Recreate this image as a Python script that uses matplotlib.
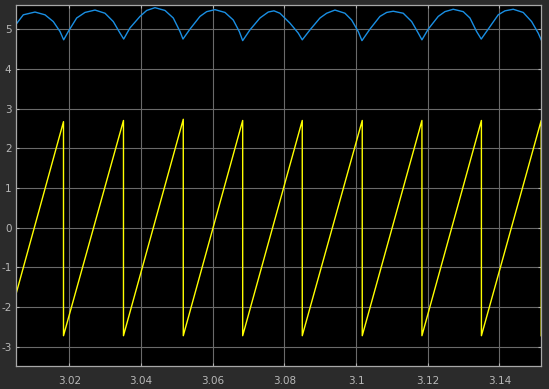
import numpy as np
import matplotlib
matplotlib.use("Agg")
from matplotlib import pyplot as plt

plt.rcParams["axes.unicode_minus"] = False

# blue trace
blue_t = [3.00500, 3.00712, 3.01039, 3.01318, 3.01549, 3.01736, 3.01839,
          3.01968, 3.02202, 3.02434, 3.02713, 3.02992, 3.03224, 3.03411, 3.03514,
          3.03690, 3.03969, 3.04156, 3.04387, 3.04666, 3.04898, 3.05085, 3.05169,
          3.05364, 3.05643, 3.05830, 3.06062, 3.06341, 3.06572, 3.06740, 3.06835,
          3.07038, 3.07317, 3.07549, 3.07708, 3.07875, 3.08155, 3.08386, 3.08498,
          3.08713, 3.08992, 3.09179, 3.09410, 3.09689, 3.09876, 3.10060, 3.10164,
          3.10387, 3.10666, 3.10853, 3.11037, 3.11316, 3.11551, 3.11735, 3.11838,
          3.12014, 3.12293, 3.12480, 3.12711, 3.12991, 3.13178, 3.13364, 3.13493,
          3.13688, 3.13967, 3.14154, 3.14386, 3.14665, 3.14899, 3.15083, 3.15167]
blue_v = [5.11, 5.36, 5.43, 5.36, 5.19, 4.94, 4.73,
          4.94, 5.28, 5.42, 5.48, 5.40, 5.19, 4.90, 4.75,
          5.03, 5.32, 5.47, 5.54, 5.47, 5.28, 4.94, 4.75,
          5.00, 5.32, 5.44, 5.49, 5.42, 5.23, 4.94, 4.71,
          4.98, 5.28, 5.43, 5.46, 5.40, 5.15, 4.90, 4.73,
          4.98, 5.28, 5.40, 5.48, 5.40, 5.23, 4.94, 4.71,
          5.00, 5.32, 5.42, 5.45, 5.40, 5.19, 4.90, 4.73,
          5.00, 5.32, 5.44, 5.50, 5.44, 5.28, 4.94, 4.75,
          5.00, 5.36, 5.46, 5.50, 5.42, 5.19, 4.90, 4.73]

# yellow sawtooth corners
saw_t = [3.00500, 3.01834, 3.01834, 3.03508, 3.03508, 3.05177, 3.05177,
         3.06835, 3.06835, 3.08498, 3.08498, 3.10172, 3.10172, 3.11838, 3.11838,
         3.13498, 3.13498, 3.15167, 3.15167]
saw_v = [-1.70, 2.67, -2.72, 2.70, -2.72, 2.73, -2.72,
         2.70, -2.72, 2.70, -2.72, 2.70, -2.72, 2.70, -2.72,
         2.70, -2.72, 2.70, -2.72]

x_ticks = [3.02, 3.04, 3.06, 3.08, 3.10, 3.12, 3.14]
x_labels = ["3.02", "3.04", "3.06", "3.08", "3.1", "3.12", "3.14"]
y_ticks = [-3, -2, -1, 0, 1, 2, 3, 4, 5]

fig = plt.figure(figsize=(5.49, 3.89), dpi=100, facecolor="#2b2b2b")
ax = fig.add_axes([0.0286, 0.0584, 0.9574, 0.928], facecolor="black")

ax.plot(blue_t, blue_v, color="#1a8fe3", lw=1.0)
ax.plot(saw_t, saw_v, color="#ffff00", lw=1.0)

ax.set_xlim(3.005, 3.1517)
ax.set_ylim(-3.49, 5.6)
ax.set_xticks(x_ticks)
ax.set_xticklabels(x_labels)
ax.set_yticks(y_ticks)

ax.grid(True, color="#6a6a6a", lw=0.8)
ax.set_axisbelow(True)
for s in ax.spines.values():
    s.set_color("#a8a8a8")
    s.set_linewidth(0.9)
ax.tick_params(direction="in", length=2.5, width=0.8, color="#b0b0b0",
               labelcolor="#b8b8b8", labelsize=7.5,
               top=True, right=True)
ax.tick_params(axis="x", pad=7)
ax.tick_params(axis="y", pad=3)

fig.savefig("out.png", dpi=100, facecolor=fig.get_facecolor())
